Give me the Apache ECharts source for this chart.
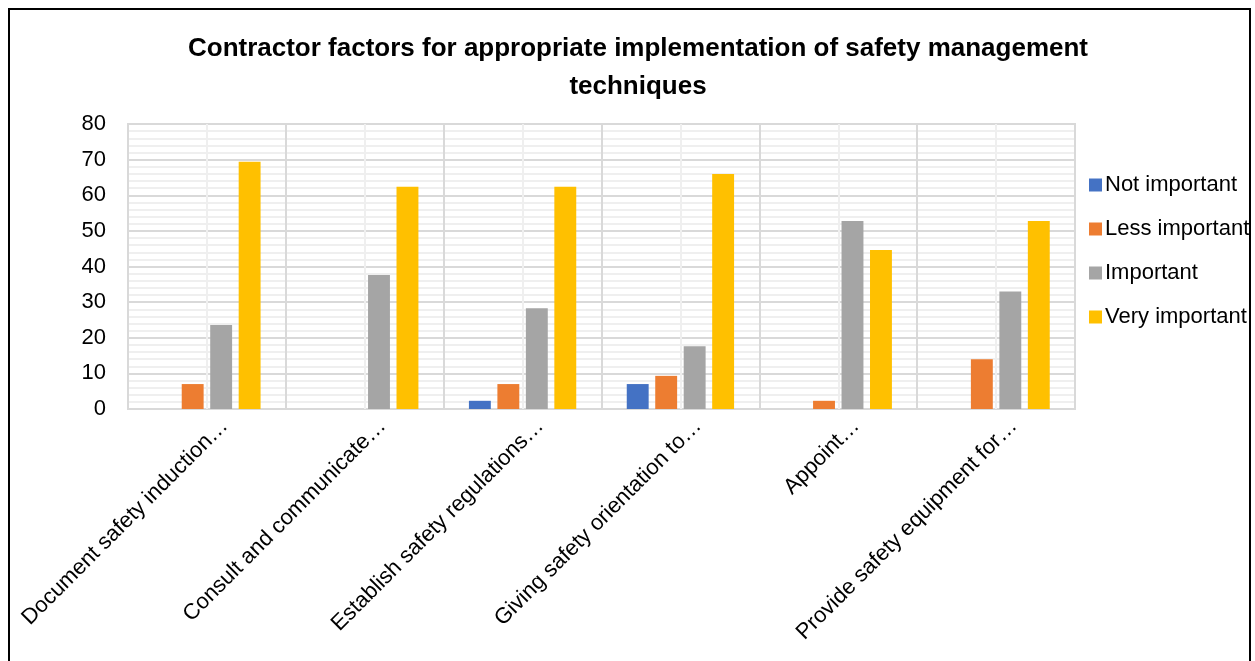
<!DOCTYPE html>
<html>
<head>
<meta charset="utf-8">
<script src="https://cdn.jsdelivr.net/npm/echarts@6/dist/echarts.min.js"></script>
<style>
  html, body { margin: 0; padding: 0; background: #fff; }
  #frame { position: absolute; left: 8px; top: 8px; width: 1243px; height: 700px; border: 2px solid #000; box-sizing: border-box; }
  #chart { position: absolute; left: 0; top: 0; width: 1255px; height: 661px; }
</style>
</head>
<body>
<div id="frame"></div>
<div id="chart"></div>
<script>
// Factors (category axis) and share of responses (%) per importance rating
const categories = [
  'Document safety induction…',
  'Consult and communicate…',
  'Establish safety regulations…',
  'Giving safety orientation to…',
  'Appoint…',
  'Provide safety equipment for…'
];
const notImportant  = [0,    0,    2.3,  7.0,  0,    0];
const lessImportant = [7.0,  0,    7.0,  9.3,  2.3,  14.0];
const important     = [23.6, 37.6, 28.3, 17.6, 52.8, 33.0];
const veryImportant = [69.4, 62.4, 62.4, 66.0, 44.6, 52.8];
const seriesNames = ['Not important', 'Less important', 'Important', 'Very important'];
const yTicks = { min: 0, max: 80, step: 10 };

const colors = ['#4472C4', '#ED7D31', '#A5A5A5', '#FFC000'];
const font = '"Liberation Sans", Arial, sans-serif';

const chart = echarts.init(document.getElementById('chart'));
const values = [notImportant, lessImportant, important, veryImportant];

chart.setOption({
  animation: false,
  color: colors,
  title: {
    text: 'Contractor factors for appropriate implementation of safety management\ntechniques',
    left: 633, top: 25, textAlign: 'center',
    textStyle: { fontFamily: font, fontWeight: 'bold', fontSize: 26, color: '#000', lineHeight: 38 }
  },
  legend: {
    orient: 'vertical', left: 1084, top: 169,
    itemWidth: 13, itemHeight: 13, itemGap: 22,
    icon: 'rect',
    textStyle: { fontFamily: font, fontSize: 22, color: '#000', padding: [0, 0, 0, -2] },
    data: seriesNames
  },
  grid: {
    left: 128, right: 180, top: 124, bottom: 252,
    show: true, borderColor: '#d9d9d9', borderWidth: 2, backgroundColor: 'transparent'
  },
  xAxis: [{
    type: 'category', data: categories,
    axisLine: { show: false }, axisTick: { show: false },
    splitLine: { show: true, lineStyle: { color: '#d9d9d9', width: 2 } },
    axisLabel: {
      rotate: 45, fontFamily: font, fontSize: 22, color: '#000', margin: 10, interval: 0,
      verticalAlign: 'top', padding: [4, -10, 0, 0]
    },
    z: 3
  }, {
    // half-category positions: light divider through each group centre
    type: 'value', min: 0, max: 12, interval: 1, position: 'top',
    axisLine: { show: false }, axisTick: { show: false }, axisLabel: { show: false },
    splitLine: { show: true, lineStyle: { color: '#efefef', width: 2 } }
  }],
  yAxis: {
    type: 'value', min: yTicks.min, max: yTicks.max, interval: yTicks.step,
    axisLine: { show: false }, axisTick: { show: false },
    axisLabel: { fontFamily: font, fontSize: 22, color: '#000', margin: 22 },
    splitLine: { show: true, lineStyle: { color: '#d9d9d9', width: 2 } },
    minorTick: { show: false, splitNumber: 5 },
    minorSplitLine: { show: true, lineStyle: { color: '#efefef', width: 2 } }
  },
  series: values.map((v, i) => ({
    name: seriesNames[i], type: 'bar', data: v, xAxisIndex: 0,
    barGap: '30%', barCategoryGap: '32%',
    itemStyle: { color: colors[i] }
  }))
});
</script>
</body>
</html>
